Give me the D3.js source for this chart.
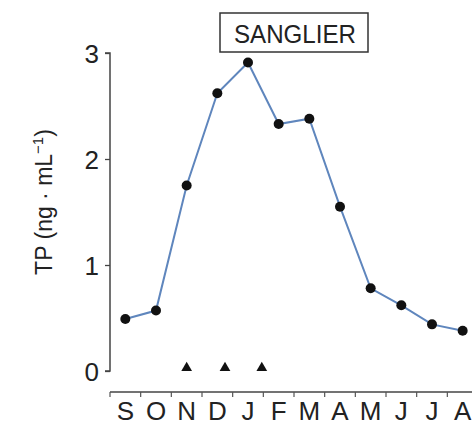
<!DOCTYPE html>
<html>
<head>
<meta charset="utf-8">
<script src="https://cdn.jsdelivr.net/npm/d3@7"></script>
<style>
  body { margin: 0; background: #fff; }
  text { font-family: "Liberation Sans", Arial, sans-serif; fill: #222; }
</style>
</head>
<body>
<script>
// months, Sept -> Aug
const months = ["S", "O", "N", "D", "J", "F", "M", "A", "M", "J", "J", "A"];
// TP concentration (ng/mL), monthly means
const tpValues = [0.49, 0.57, 1.75, 2.62, 2.91, 2.33, 2.38, 1.55, 0.78, 0.62, 0.44, 0.38];
// triangle markers (position in months from start of Sept)
const markerMonths = [2.5, 3.75, 4.95];
const yTicks = [0, 1, 2, 3];
const title = "SANGLIER";

const width = 472, height = 427;

const svg = d3.select("body").append("svg")
  .attr("width", width)
  .attr("height", height);

// month scale: 0..12 months across the x axis
const xm = d3.scaleLinear().domain([0, 12]).range([110, 478]);
const y = d3.scaleLinear().domain([0, 3]).range([371, 53]);

// y axis
const yAxis = svg.append("g")
  .attr("transform", "translate(110,0)")
  .call(d3.axisLeft(y).tickValues(yTicks).tickSize(5).tickPadding(6).tickFormat(d3.format("d")));
yAxis.select(".domain").attr("stroke", "#444").attr("stroke-width", 1.5).attr("d", "M-5,53H0V371H-5");
yAxis.selectAll(".tick line").attr("stroke", "#444").attr("stroke-width", 1.3);
yAxis.selectAll(".tick text").style("font-size", "26px").attr("fill", "#222").attr("dy", "0.36em");

// x axis (ticks at month boundaries, labels centred in each month)
const xAxis = svg.append("g").attr("transform", "translate(0,392)");
xAxis.append("line")
  .attr("x1", xm(0)).attr("x2", width)
  .attr("stroke", "#444").attr("stroke-width", 1.5);
xAxis.selectAll(".tk")
  .data(d3.range(0, 12))
  .enter().append("line")
  .attr("x1", d => xm(d)).attr("x2", d => xm(d))
  .attr("y1", 0).attr("y2", 5)
  .attr("stroke", "#555").attr("stroke-width", 1.2);
xAxis.selectAll(".lbl")
  .data(months)
  .enter().append("text")
  .attr("x", (d, i) => xm(i + 0.5))
  .attr("y", 28)
  .attr("text-anchor", "middle")
  .style("font-size", "26px")
  .text(d => d);

// y axis label
svg.append("text")
  .attr("transform", "translate(52,202) rotate(-90)")
  .attr("text-anchor", "middle")
  .style("font-size", "23px")
  .html("TP (ng · mL<tspan dy='-9' font-size='15'>−1</tspan><tspan dy='9'>)</tspan>");

// line
const line = d3.line()
  .x((d, i) => xm(i + 0.5))
  .y(d => y(d));
svg.append("path")
  .datum(tpValues)
  .attr("d", line)
  .attr("fill", "none")
  .attr("stroke", "#5f86bd")
  .attr("stroke-width", 2);

svg.selectAll(".pt")
  .data(tpValues)
  .enter().append("circle")
  .attr("cx", (d, i) => xm(i + 0.5))
  .attr("cy", d => y(d))
  .attr("r", 5)
  .attr("fill", "#111");

// triangles
svg.selectAll(".tri")
  .data(markerMonths)
  .enter().append("path")
  .attr("d", d3.symbol(d3.symbolTriangle, 50))
  .attr("transform", d => `translate(${xm(d)},368)`)
  .attr("fill", "#111");

// title box
svg.append("rect")
  .attr("x", 220).attr("y", 13)
  .attr("width", 148).attr("height", 39)
  .attr("fill", "none")
  .attr("stroke", "#333")
  .attr("stroke-width", 1.5);
svg.append("text")
  .attr("x", 295).attr("y", 43)
  .attr("text-anchor", "middle")
  .attr("textLength", 122)
  .attr("lengthAdjust", "spacingAndGlyphs")
  .style("font-size", "25px")
  .text(title);
</script>
</body>
</html>
